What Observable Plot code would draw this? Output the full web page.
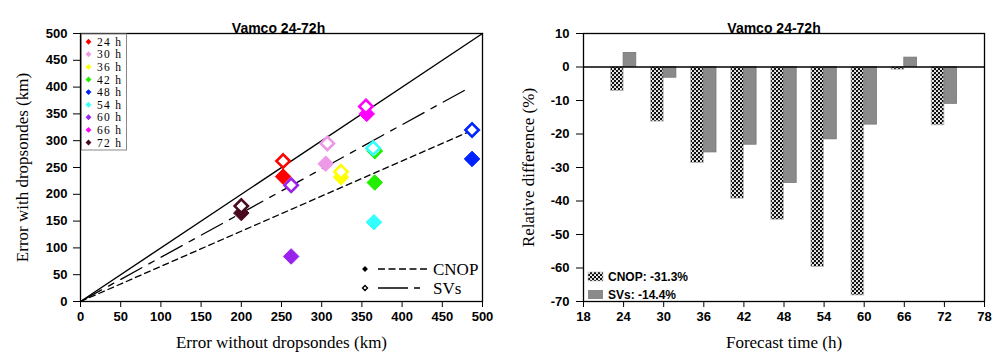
<!DOCTYPE html>
<html><head><meta charset="utf-8">
<script src="https://cdn.jsdelivr.net/npm/d3@7"></script>
<script src="https://cdn.jsdelivr.net/npm/@observablehq/plot@0.6"></script>
<style>
body{margin:0;background:#fff;}
#wrap{position:relative;width:1000px;height:362px;display:flex;}
.panel{position:relative;width:500px;height:362px;}
.panel svg.overlay{position:absolute;left:0;top:0;pointer-events:none;}
</style></head><body>
<div id="wrap"><div class="panel" id="left"></div><div class="panel" id="right"></div></div>
<script>
// ---------- data ----------
const title = "Vamco 24-72h";
const hourLabels = ["24 h","30 h","36 h","42 h","48 h","54 h","60 h","66 h","72 h"];
const hourColors = ["#ff0000","#ee99e8","#ffff00","#22ee00","#0022ff","#33ffff","#9922ee","#ff00ff","#4a0a1e"];
// left panel: errors (km)
const cnopWithout = [252,305,324,366,487,365,262,356,200];
const cnopWith    = [233,257,232,222,266,148,84,350,165];
const svWithout   = [252,307,324,366,487,364,262,355,200];
const svWith      = [262,295,242,281,320,286,217,364,178];
const diagLine = [[0,0],[500,500]];
const cnopFit  = [[0,0],[485,318]];
const svFit    = [[0,0],[485,400]];
const leftTicks = [0,50,100,150,200,250,300,350,400,450,500];
// right panel: relative difference (%)
const forecastHours = [24,30,36,42,48,54,60,66,72];
const cnopRel = [-7.2,-16.3,-28.7,-39.3,-45.6,-59.7,-68.2,-0.8,-17.4];
const svRel   = [4.2,-3.2,-25.5,-23.2,-34.6,-21.6,-17.2,2.8,-11.0];
const rightXTicks = [18,24,30,36,42,48,54,60,66,72,78];
const rightYTicks = [10,0,-10,-20,-30,-40,-50,-60,-70];
const legendRight = ["CNOP: -31.3%","SVs: -14.4%"];
const legendLeft = ["CNOP","SVs"];

const sans = "'Liberation Sans', Arial, sans-serif";
const serif = "'Liberation Serif', 'Times New Roman', serif";

// ---------- left chart ----------
const cnopPts = hourLabels.map((h,i)=>({h, c:hourColors[i], x:cnopWithout[i], y:cnopWith[i]}));
const svPts = hourLabels.map((h,i)=>({h, c:hourColors[i], x:svWithout[i], y:svWith[i]}));

const left = Plot.plot({
  width:500, height:362, marginLeft:80, marginRight:18, marginTop:33, marginBottom:61,
  x:{domain:[0,500]}, y:{domain:[0,500]},
  style:{background:"white", overflow:"visible", fontFamily:sans},
  marks:[
    Plot.line(diagLine, {x:d=>d[0], y:d=>d[1], stroke:"#000", strokeWidth:1.4}),
    Plot.line(cnopFit, {x:d=>d[0], y:d=>d[1], stroke:"#000", strokeWidth:1.3, strokeDasharray:"6,4"}),
    Plot.line(svFit, {x:d=>d[0], y:d=>d[1], stroke:"#000", strokeWidth:1.3, strokeDasharray:"24,8,6,8"}),
    Plot.dot(cnopPts, {x:"x", y:"y", symbol:"diamond2", r:7, fill:d=>d.c, stroke:d=>d.c, strokeWidth:1}),
    Plot.dot(svPts, {x:"x", y:"y", symbol:"diamond2", r:6, fill:"white", stroke:d=>d.c, strokeWidth:2.6}),
    Plot.frame({stroke:"#000", strokeWidth:1.3}),
    Plot.axisX({ticks:leftTicks, tickSize:6, tickPadding:4, fontSize:13, fontWeight:"bold", fontFamily:sans, label:null, tickFormat:d=>String(d), stroke:"#000"}),
    Plot.axisY({ticks:leftTicks, tickSize:7, tickPadding:6, fontSize:13, fontWeight:"bold", fontFamily:sans, label:null, tickFormat:d=>String(d)}),
    Plot.text([title], {frameAnchor:"top", dy:-10, dx:-3, fontSize:14, fontWeight:"bold", fontFamily:sans}),
    Plot.text(["Error without dropsondes (km)"], {frameAnchor:"bottom", dy:46, fontSize:17, fontFamily:serif}),
    Plot.text(["Error with dropsondes (km)"], {frameAnchor:"left", textAnchor:"middle", rotate:-90, dx:-58, fontSize:17, fontFamily:serif})
  ]
});
document.getElementById("left").appendChild(left);

// left legends overlay
{
  const ov = d3.select("#left").append("svg").attr("class","overlay").attr("width",500).attr("height",362);
  ov.append("rect").attr("x",81.5).attr("y",34).attr("width",45).attr("height",116)
    .attr("fill","white").attr("stroke","#888").attr("stroke-width",1);
  hourLabels.forEach((h,i)=>{
    const y = 41.7 + i*12.6;
    ov.append("path").attr("d",d3.symbol(d3.symbolDiamond2, 22)()).attr("transform",`translate(88.5,${y})`).attr("fill",hourColors[i]);
    ov.append("text").attr("x",97).attr("y",y).attr("dy","0.35em").attr("font-family",serif).attr("font-size",11.5).attr("textLength",24).text(h);
  });
  const ly = [269, 288];
  ov.append("path").attr("d",d3.symbol(d3.symbolDiamond2, 22)()).attr("transform",`translate(365,${ly[0]})`).attr("fill","#000");
  ov.append("path").attr("d",d3.symbol(d3.symbolDiamond2, 16)()).attr("transform",`translate(365,${ly[1]})`).attr("fill","white").attr("stroke","#000").attr("stroke-width",1.4);
  ov.append("line").attr("x1",378).attr("x2",427).attr("y1",ly[0]).attr("y2",ly[0]).attr("stroke","#000").attr("stroke-width",1.3).attr("stroke-dasharray","7,3.5");
  ov.append("line").attr("x1",378).attr("x2",427).attr("y1",ly[1]).attr("y2",ly[1]).attr("stroke","#000").attr("stroke-width",1.3).attr("stroke-dasharray","30,6,6,100");
  legendLeft.forEach((t,i)=>{
    ov.append("text").attr("x",433).attr("y",ly[i]).attr("dy","0.35em").attr("font-family",serif).attr("font-size",17).text(t);
  });
}

// ---------- right chart ----------
const barW = 1.9;
const barRows = forecastHours.map((t,i)=>({t, cnop:cnopRel[i], sv:svRel[i]}));
const right = Plot.plot({
  width:500, height:362, marginLeft:83, marginRight:16, marginTop:33, marginBottom:61,
  x:{domain:[18,78]}, y:{domain:[-70,10]},
  style:{background:"white", overflow:"visible", fontFamily:sans},
  marks:[
    Plot.rect(barRows, {x1:d=>d.t-barW, x2:d=>d.t, y1:d=>0, y2:"cnop", fill:"url(#cnopPat)", stroke:"#bbb", strokeWidth:0.8}),
    Plot.rect(barRows, {x1:d=>d.t, x2:d=>d.t+barW, y1:d=>0, y2:"sv", fill:"#8a8a8a", stroke:"#777", strokeWidth:0.8}),
    Plot.ruleY([0], {stroke:"#000", strokeWidth:1.3}),
    Plot.frame({stroke:"#000", strokeWidth:1.3}),
    Plot.axisX({ticks:rightXTicks, tickSize:6, tickPadding:4, fontSize:13, fontWeight:"bold", fontFamily:sans, label:null, tickFormat:d=>String(d)}),
    Plot.axisY({ticks:rightYTicks, tickSize:7, tickPadding:7, fontSize:13, fontWeight:"bold", fontFamily:sans, label:null, tickFormat:d=>String(d)}),
    Plot.text([title], {frameAnchor:"top", dy:-10, dx:-10, fontSize:14, fontWeight:"bold", fontFamily:sans}),
    Plot.text(["Forecast time (h)"], {frameAnchor:"bottom", dy:46, fontSize:17, fontFamily:serif}),
    Plot.text(["Relative difference (%)"], {frameAnchor:"left", textAnchor:"middle", rotate:-90, dx:-55, fontSize:17, fontFamily:serif})
  ]
});
// pattern defs
{
  const s = d3.select(right);
  const defs = s.insert("defs", ":first-child");
  const p = defs.append("pattern").attr("id","cnopPat").attr("width",4).attr("height",4).attr("patternUnits","userSpaceOnUse");
  p.append("rect").attr("width",4).attr("height",4).attr("fill","#111");
  p.append("circle").attr("cx",1).attr("cy",1).attr("r",1.05).attr("fill","#fff");
  p.append("circle").attr("cx",3).attr("cy",3).attr("r",1.05).attr("fill","#fff");
}
document.getElementById("right").appendChild(right);
{
  const ov = d3.select("#right").append("svg").attr("class","overlay").attr("width",500).attr("height",362);
  const ys = [272, 290];
  ov.append("rect").attr("x",88).attr("y",ys[0]).attr("width",15).attr("height",9).attr("fill","url(#cnopPat)").attr("stroke","#bbb").attr("stroke-width",0.6);
  ov.append("rect").attr("x",88).attr("y",ys[1]).attr("width",15).attr("height",9).attr("fill","#8a8a8a");
  legendRight.forEach((t,i)=>{
    ov.append("text").attr("x",108).attr("y",ys[i]+4.5).attr("dy","0.35em").attr("font-family",sans).attr("font-size",12).attr("font-weight","600").text(t);
  });
}
</script>
</body></html>
